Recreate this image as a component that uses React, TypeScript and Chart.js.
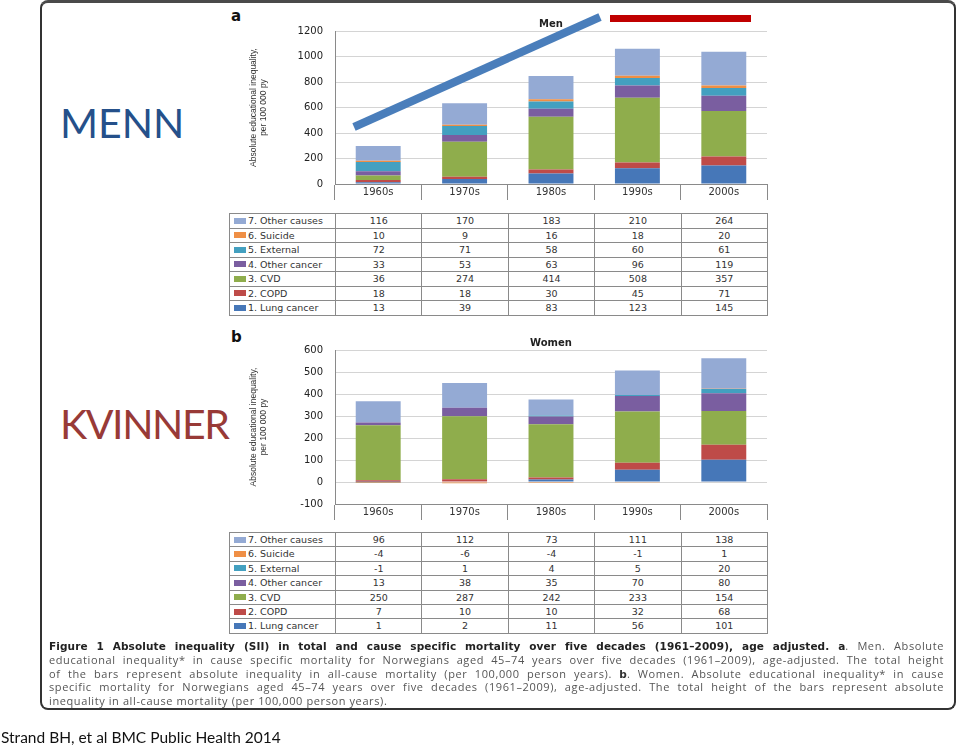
import React, { useEffect, useRef } from 'react';
import { Chart, registerables } from 'chart.js';

Chart.register(...registerables);

// ---------- data ----------
const categories = ['1960s', '1970s', '1980s', '1990s', '2000s'];
const causeNames = ['1. Lung cancer', '2. COPD', '3. CVD', '4. Other cancer', '5. External', '6. Suicide', '7. Other causes'];

const menLungCancer = [13, 39, 83, 123, 145];
const menCopd = [18, 18, 30, 45, 71];
const menCvd = [36, 274, 414, 508, 357];
const menOtherCancer = [33, 53, 63, 96, 119];
const menExternal = [72, 71, 58, 60, 61];
const menSuicide = [10, 9, 16, 18, 20];
const menOtherCauses = [116, 170, 183, 210, 264];

const womenLungCancer = [1, 2, 11, 56, 101];
const womenCopd = [7, 10, 10, 32, 68];
const womenCvd = [250, 287, 242, 233, 154];
const womenOtherCancer = [13, 38, 35, 70, 80];
const womenExternal = [-1, 1, 4, 5, 20];
const womenSuicide = [-4, -6, -4, -1, 1];
const womenOtherCauses = [96, 112, 73, 111, 138];

const menTicks = [0, 200, 400, 600, 800, 1000, 1200];
const womenTicks = [-100, 0, 100, 200, 300, 400, 500, 600];

const yAxisTitle = ['Absolute educational inequality,', 'per 100 000 py'];

// ---------- styles ----------
const causeColors = ['#4677b8', '#be4b48', '#8fad4c', '#7a5ea0', '#43a0c0', '#ef8f45', '#94aad4'];
const axisGray = '#8a8a8a';
const PLOT_LEFT = 229;
const Y_AXIS_W = 106;
const COL_W = 86.4;
const PANEL_W = Y_AXIS_W + COL_W * 5; // 538

type PanelProps = {
  title: string;
  series: number[][];
  ticks: number[];
  top: number;
  height: number;
  xHeight: number;
};

function StackedBars({ title, series, ticks, top, height, xHeight }: PanelProps) {
  const ref = useRef<HTMLCanvasElement>(null);
  const width = 541;
  useEffect(() => {
    const chart = new Chart(ref.current!, {
      type: 'bar',
      data: {
        labels: categories,
        datasets: series.map((d, i) => ({
          label: causeNames[i],
          data: d,
          backgroundColor: causeColors[i],
          borderWidth: 0,
          barPercentage: 0.52,
          categoryPercentage: 1,
        })),
      },
      options: {
        responsive: false,
        animation: false,
        devicePixelRatio: 1,
        layout: { padding: { right: width - PANEL_W, left: 0, top: 0, bottom: 0 } },
        plugins: {
          legend: { display: false },
          tooltip: { enabled: false },
          title: {
            display: true,
            text: title,
            fullSize: false,
            color: '#222',
            font: { family: '"DejaVu Sans"', size: 10, weight: 'bold', lineHeight: 1.2 },
            padding: { top: 0, bottom: 1 },
          },
        },
        scales: {
          x: {
            stacked: true,
            offset: true,
            border: { color: axisGray, width: 1 },
            grid: {
              display: true,
              offset: true,
              drawOnChartArea: false,
              drawTicks: true,
              tickLength: 16,
              color: axisGray,
            },
            ticks: {
              padding: -14,
              color: '#333',
              font: { family: '"DejaVu Sans"', size: 10 },
            },
            afterFit: (s: any) => {
              s.height = xHeight;
            },
          },
          y: {
            stacked: true,
            min: ticks[0],
            max: ticks[ticks.length - 1],
            border: { color: axisGray, width: 1 },
            grid: { color: '#d4d4d4', drawTicks: false },
            ticks: {
              padding: 12,
              color: '#222',
              font: { family: '"DejaVu Sans"', size: 10 },
              callback: (v: any) => String(v),
            },
            afterBuildTicks: (s: any) => {
              s.ticks = ticks.map((v) => ({ value: v }));
            },
            afterFit: (s: any) => {
              s.width = Y_AXIS_W;
            },
            title: {
              display: true,
              text: yAxisTitle,
              color: '#333',
              font: { family: '"Liberation Sans"', size: 8.5, lineHeight: 1.25 },
              padding: { top: 19, bottom: 0 },
            },
          },
        },
      },
    });
    return () => chart.destroy();
  }, []);
  return (
    <canvas
      ref={ref}
      width={width}
      height={height}
      style={{ position: 'absolute', left: PLOT_LEFT, top, width, height }}
    />
  );
}

function DataTable({ series, top, rowH }: { series: number[][]; top: number; rowH: number }) {
  const order = [6, 5, 4, 3, 2, 1, 0];
  const cell: React.CSSProperties = {
    border: `1px solid ${axisGray}`,
    padding: 0,
    height: rowH - 1,
    lineHeight: `${rowH - 1}px`,
    overflow: 'hidden',
    whiteSpace: 'nowrap',
  };
  return (
    <table
      style={{
        position: 'absolute',
        left: PLOT_LEFT,
        top,
        width: PANEL_W,
        borderCollapse: 'collapse',
        tableLayout: 'fixed',
        fontFamily: '"DejaVu Sans"',
        fontSize: 9.5,
        color: '#333',
      }}
    >
      <colgroup>
        <col style={{ width: Y_AXIS_W }} />
        {categories.map((c) => (
          <col key={c} style={{ width: COL_W }} />
        ))}
      </colgroup>
      <tbody>
        {order.map((i) => (
          <tr key={i} style={{ height: rowH }}>
            <td style={{ ...cell, textAlign: 'left' }}>
              <span
                style={{
                  display: 'inline-block',
                  width: 12,
                  height: 6,
                  marginLeft: 4,
                  marginRight: 2,
                  background: causeColors[i],
                  verticalAlign: 'middle',
                  position: 'relative',
                  top: -1,
                }}
              />
              {causeNames[i]}
            </td>
            {series[i].map((v, j) => (
              <td key={j} style={{ ...cell, textAlign: 'center' }}>
                {v}
              </td>
            ))}
          </tr>
        ))}
      </tbody>
    </table>
  );
}

const capReg: React.CSSProperties = {
  fontFamily: '"Open Sans"',
  fontSize: 11,
  letterSpacing: '0.6px',
  color: '#555',
};
const capBold: React.CSSProperties = {
  fontFamily: '"DejaVu Sans"',
  fontWeight: 'bold',
  fontSize: 10.5,
  letterSpacing: '0.1px',
  color: '#222',
};

function CapLine({ top, justify, children }: { top: number; justify: boolean; children: React.ReactNode }) {
  return (
    <div
      style={{
        position: 'absolute',
        left: 49,
        top,
        width: 895,
        height: 14,
        lineHeight: '14px',
        textAlign: justify ? 'justify' : 'left',
        textAlignLast: justify ? 'justify' : 'left',
        ...capReg,
      }}
    >
      {children}
    </div>
  );
}

export default function App() {
  const menSeries = [menLungCancer, menCopd, menCvd, menOtherCancer, menExternal, menSuicide, menOtherCauses];
  const womenSeries = [
    womenLungCancer,
    womenCopd,
    womenCvd,
    womenOtherCancer,
    womenExternal,
    womenSuicide,
    womenOtherCauses,
  ];
  return (
    <div
      style={{
        position: 'absolute',
        left: 0,
        top: 0,
        width: 959,
        height: 746,
        background: '#fff',
        overflow: 'hidden',
      }}
    >
      {/* frame */}
      <div
        style={{
          position: 'absolute',
          left: 40,
          top: 0,
          width: 912,
          height: 705,
          border: '2px solid #333',
          borderTop: '3px solid #4a4a4a',
          borderRadius: 8,
        }}
      />
      <div
        style={{
          position: 'absolute',
          left: 60,
          top: 98,
          fontFamily: 'Lato, "Open Sans", sans-serif',
          fontSize: 41,
          color: '#25508a',
          lineHeight: '50px',
        }}
      >
        MENN
      </div>
      <div
        style={{
          position: 'absolute',
          left: 60,
          top: 399,
          fontFamily: 'Lato, "Open Sans", sans-serif',
          fontSize: 41,
          letterSpacing: '-1.4px',
          color: '#983a37',
          lineHeight: '50px',
        }}
      >
        KVINNER
      </div>

      <div
        style={{
          position: 'absolute',
          left: 231,
          top: 7,
          fontFamily: '"DejaVu Sans"',
          fontWeight: 'bold',
          fontSize: 15,
          color: '#111',
        }}
      >
        a
      </div>
      <div
        style={{
          position: 'absolute',
          left: 231,
          top: 328,
          fontFamily: '"DejaVu Sans"',
          fontWeight: 'bold',
          fontSize: 15,
          color: '#111',
        }}
      >
        b
      </div>

      <StackedBars title="Men" series={menSeries} ticks={menTicks} top={13} height={200} xHeight={29} />
      <DataTable series={menSeries} top={213} rowH={14.5} />

      <StackedBars title="Women" series={womenSeries} ticks={womenTicks} top={332} height={200} xHeight={28} />
      <DataTable series={womenSeries} top={532} rowH={14.4} />

      {/* slide annotations */}
      <svg
        width={959}
        height={746}
        style={{ position: 'absolute', left: 0, top: 0, pointerEvents: 'none' }}
      >
        <line x1={354} y1={127} x2={600} y2={17} stroke="#4a7ebb" strokeWidth={8} />
        <rect x={610} y={15} width={141} height={7} fill="#c00000" />
      </svg>

      <CapLine top={639} justify={true}>
        <span style={capBold}>
          Figure 1 Absolute inequality (SII) in total and cause specific mortality over five decades (1961–2009), age
          adjusted. a
        </span>
        . Men. Absolute
      </CapLine>
      <CapLine top={653} justify={true}>
        educational inequality* in cause specific mortality for Norwegians aged 45–74 years over five decades
        (1961–2009), age-adjusted. The total height
      </CapLine>
      <CapLine top={667} justify={true}>
        of the bars represent absolute inequality in all-cause mortality (per 100,000 person years).{' '}
        <span style={{ ...capBold, color: '#333' }}>b</span>. Women. Absolute educational inequality* in cause
      </CapLine>
      <CapLine top={680} justify={true}>
        specific mortality for Norwegians aged 45–74 years over five decades (1961–2009), age-adjusted. The total height
        of the bars represent absolute
      </CapLine>
      <CapLine top={694} justify={false}>
        inequality in all-cause mortality (per 100,000 person years).
      </CapLine>

      <div
        style={{
          position: 'absolute',
          left: 1,
          top: 727,
          fontFamily: 'Lato, "Open Sans", sans-serif',
          fontSize: 15.5,
          color: '#111',
          lineHeight: '20px',
        }}
      >
        Strand BH, et al BMC Public Health 2014
      </div>
    </div>
  );
}
